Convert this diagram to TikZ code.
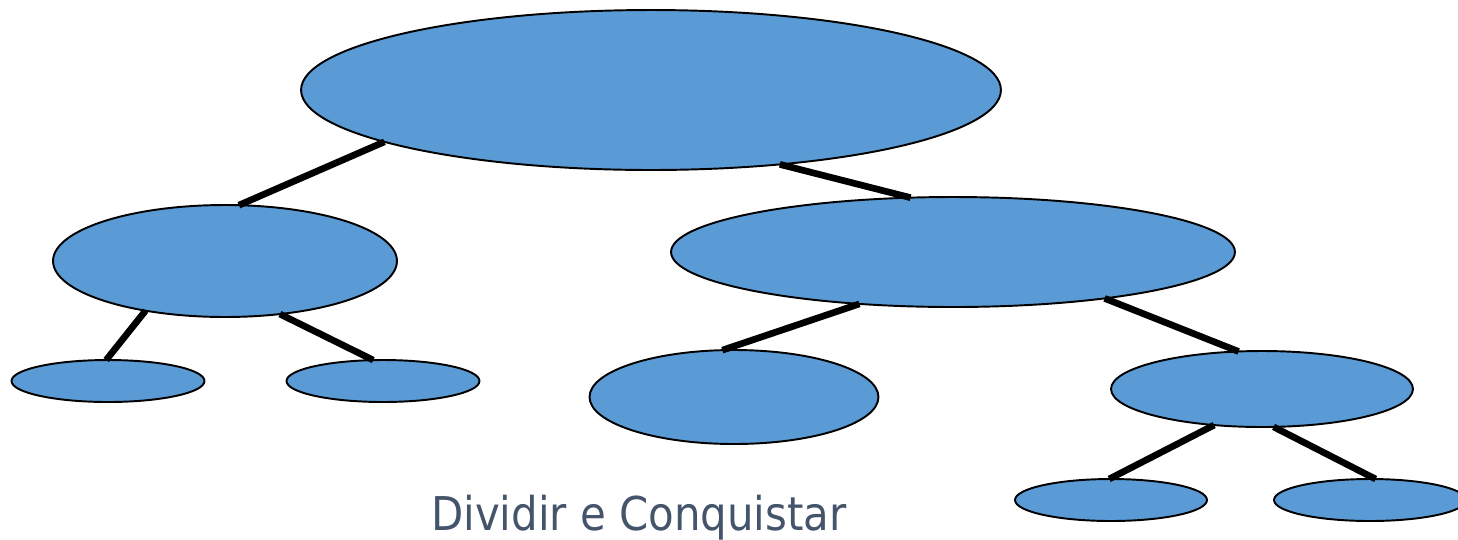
\documentclass[tikz,border=0pt]{standalone}
\usepackage{fontspec}
\usepackage{tikz}
\usetikzlibrary{shapes.geometric}
\usepackage{xcolor}
\definecolor{nodeblue}{HTML}{5B9BD5}
\definecolor{slate}{HTML}{44546A}
\newfontfamily\titlefont{DejaVu Sans Condensed}

\begin{document}
\begin{tikzpicture}[x=0.02cm,y=-0.02cm,
  part/.style={ellipse,draw=black,line width=1.1pt,fill=nodeblue,inner sep=0pt,outer sep=0pt},
  split/.style={line width=3.8pt,black}]
\useasboundingbox (0,0) rectangle (1458,539);
% the tree of sub-problems
\node[part,minimum width=14cm,minimum height=3.2cm] (root) at (651,90) {};
\node[part,minimum width=6.88cm,minimum height=2.24cm] (l) at (225,261) {};
\node[part,minimum width=11.28cm,minimum height=2.2cm] (r) at (953,252) {};
\node[part,minimum width=3.86cm,minimum height=0.84cm] (ll) at (108,381) {};
\node[part,minimum width=3.86cm,minimum height=0.84cm] (lr) at (383,381) {};
\node[part,minimum width=5.78cm,minimum height=1.88cm] (rl) at (734,397) {};
\node[part,minimum width=6.04cm,minimum height=1.52cm] (rr) at (1262,389) {};
\node[part,minimum width=3.84cm,minimum height=0.84cm] (rrl) at (1111,500) {};
\node[part,minimum width=3.84cm,minimum height=0.84cm] (rrr) at (1370,500) {};
\draw[split] (root.191) -- (l.76);
\draw[split] (root.330) -- (r.128);
\draw[split] (l.212) -- (ll.95);
\draw[split] (l.316) -- (lr.115);
\draw[split] (r.209) -- (rl.104);
\draw[split] (r.343) -- (rr.122);
\draw[split] (rr.217) -- (rrl.95);
\draw[split] (rr.287) -- (rrr.75);
\node[text=slate,font=\titlefont\fontsize{26.5}{30}\selectfont,anchor=base] (title) at (639,530) {Dividir e Conquistar};
\end{tikzpicture}
\end{document}
